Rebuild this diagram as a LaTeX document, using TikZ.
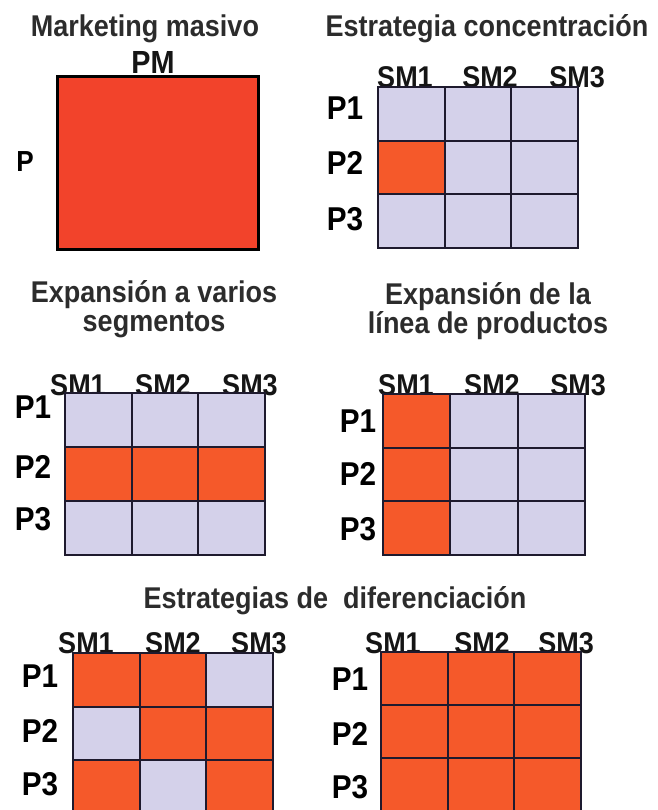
\documentclass[tikz,border=0pt]{standalone}
\usepackage{fontspec}
\setmainfont[FakeStretch=0.9]{Liberation Sans}
\definecolor{cellG}{HTML}{D4D1EA}
\definecolor{cellO}{HTML}{F5592A}
\definecolor{bigred}{HTML}{F2432B}
\definecolor{gridline}{HTML}{1E1A2E}
\definecolor{titlegray}{HTML}{2C2C2C}
\definecolor{lblblack}{HTML}{151515}
\newcommand\drawmatrix[5]{%
  \foreach \c [count=\i from 0] in {#5} {%
    \pgfmathtruncatemacro\cc{mod(\i,3)}%
    \pgfmathtruncatemacro\rr{floor(\i/3)}%
    \fill[cell\c] (#1+\cc*#3, #2+\rr*#4) rectangle ++(#3,#4);
  }%
  \foreach \k in {0,1,2,3} {%
    \draw[gridln] (#1+\k*#3,#2) -- ++(0,3*#4);
    \draw[gridln] (#1,#2+\k*#4) -- ++(3*#3,0);
  }%
}
\begin{document}
\begin{tikzpicture}[x=1pt,y=-1pt,
  ttl/.style={font=\fontsize{30}{34}\selectfont\bfseries, text=titlegray, anchor=base, inner sep=0pt},
  ttltwo/.style={font=\fontsize{30}{29}\selectfont\bfseries, text=titlegray, anchor=north, inner sep=0pt, align=center},
  smlbl/.style={font=\fontsize{30}{34}\selectfont\bfseries, text=lblblack, anchor=base, inner sep=0pt},
  plbl/.style={font=\fontsize{33}{36}\selectfont\bfseries, text=black, anchor=base, inner sep=0pt},
  gridln/.style={draw=gridline, line width=2pt, line cap=rect}]
\useasboundingbox (0,0) rectangle (657,810);
\fill[white] (0,0) rectangle (657,810);
\clip (0,0) rectangle (657,810);

% Panel 1
\node[ttl] (t1) at (145,37) {Marketing masivo};
\node[smlbl, font=\fontsize{32}{36}\selectfont\bfseries] (pm) at (153,74) {PM};
\node[plbl, font=\fontsize{29}{32}\selectfont\bfseries] (p) at (25,172) {P};
\draw[fill=bigred, draw=black, line width=3pt] (57,77) rectangle (258,249);

% Panel 2
\node[ttl] (t2) at (487,37) {Estrategia concentración};
\node[smlbl] (a1) at (405,88) {SM1};
\node[smlbl] (a2) at (490,88) {SM2};
\node[smlbl] (a3) at (577,88) {SM3};
\node[plbl] (ap1) at (345,120) {P1};
\node[plbl] (ap2) at (345,175) {P2};
\node[plbl] (ap3) at (345,230) {P3};
\drawmatrix{378}{87}{66.7}{53.7}{G,G,G,O,G,G,G,G,G}

% Panel 3
\node[ttltwo] (t3) at (154,280) {Expansión a varios\\segmentos};
\node[smlbl] (b1) at (78,395) {SM1};
\node[smlbl] (b2) at (163,395) {SM2};
\node[smlbl] (b3) at (250,395) {SM3};
\node[plbl] (bp1) at (33,418) {P1};
\node[plbl] (bp2) at (33,478) {P2};
\node[plbl] (bp3) at (33,530) {P3};
\drawmatrix{65}{393}{66.7}{54}{G,G,G,O,O,O,G,G,G}

% Panel 4
\node[ttltwo] (t4) at (488,282) {Expansión de la\\línea de productos};
\node[smlbl] (c1) at (406,395) {SM1};
\node[smlbl] (c2) at (492,395) {SM2};
\node[smlbl] (c3) at (578,395) {SM3};
\node[plbl] (cp1) at (358,432) {P1};
\node[plbl] (cp2) at (358,485) {P2};
\node[plbl] (cp3) at (358,540) {P3};
\drawmatrix{383}{394}{67.3}{53.7}{O,G,G,O,G,G,O,G,G}

% Panel 5 & 6
\node[ttl] (t5) at (335,608) {Estrategias de~ diferenciación};
\node[smlbl] (d1) at (86,653) {SM1};
\node[smlbl] (d2) at (173,653) {SM2};
\node[smlbl] (d3) at (259,653) {SM3};
\node[plbl] (dp1) at (40,687) {P1};
\node[plbl] (dp2) at (40,742) {P2};
\node[plbl] (dp3) at (40,795) {P3};
\drawmatrix{73}{653}{66.7}{53.5}{O,O,G,G,O,O,O,G,O}

\node[smlbl] (e1) at (393,653) {SM1};
\node[smlbl] (e2) at (482,653) {SM2};
\node[smlbl] (e3) at (566,653) {SM3};
\node[plbl] (ep1) at (350,690) {P1};
\node[plbl] (ep2) at (350,745) {P2};
\node[plbl] (ep3) at (350,798) {P3};
\drawmatrix{381}{652}{66.5}{53}{O,O,O,O,O,O,O,O,O}
\end{tikzpicture}
\end{document}
